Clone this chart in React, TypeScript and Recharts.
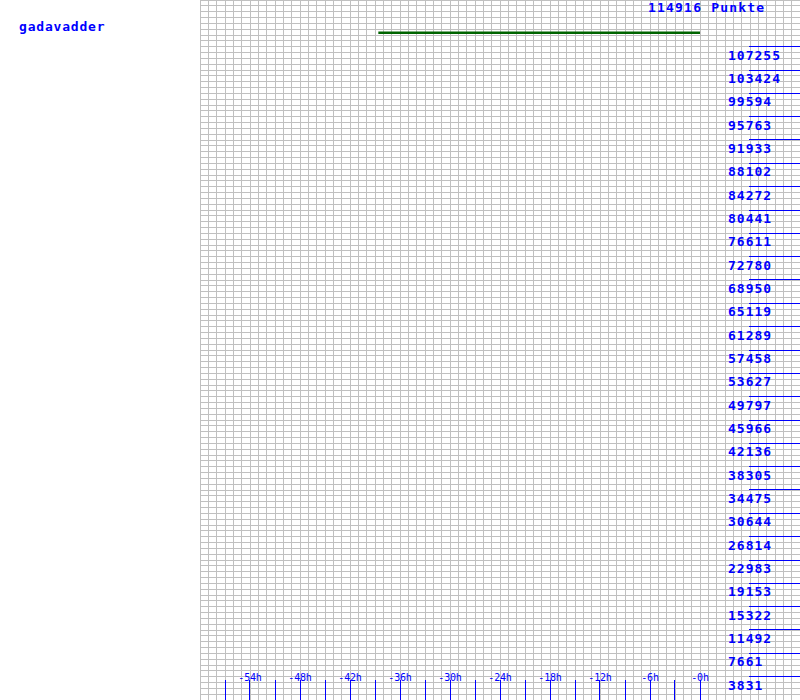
import { LineChart, Line, XAxis, YAxis, CartesianGrid } from 'recharts'

const TOTAL = 114916
const PLAYER = 'gadavadder'
const TITLE = '114916 Punkte'

// hours shown on the time axis (labelled) and the unlabelled ticks in between
const xLabelHours = [-54, -48, -42, -36, -30, -24, -18, -12, -6, 0]
const xMinorHours = [-57, -51, -45, -39, -33, -27, -21, -15, -9, -3]

const yLabels = [
  3831, 7661, 11492, 15322, 19153, 22983, 26814, 30644, 34475, 38305,
  42136, 45966, 49797, 53627, 57458, 61289, 65119, 68950, 72780, 76611,
  80441, 84272, 88102, 91933, 95763, 99594, 103424, 107255,
]

// points history (flat line)
const pointsHours = [-38.6, -30, -20, -10, 0]
const pointsValues = [109550, 109550, 109550, 109550, 109550]

const data = pointsHours.map((h, i) => ({ h, v: pointsValues[i] }))

const xTicks = [...xLabelHours, ...xMinorHours].sort((a, b) => a - b)

const BLUE = '#0000ff'
const MONO = '"DejaVu Sans Mono", monospace'

// grid: one column per hour (72), four rows per y label step (120)
const vGrid = ({ offset }: any) => {
  const out: number[] = []
  for (let i = 0; i <= 72; i++) out.push(offset.left + (offset.width * i) / 72)
  return out
}
const hGrid = ({ offset }: any) => {
  const out: number[] = []
  for (let i = 0; i <= 120; i++) out.push(offset.top + (offset.height * i) / 120)
  return out
}

// snap 1px lines onto the pixel grid
const snap = (n: number) => Math.floor(n) + 0.5

const renderXTick = (props: any) => {
  const { x, payload } = props
  const v = payload.value as number
  const labelled = xLabelHours.includes(v)
  return (
    <g key={`xt-${v}`}>
      <line x1={snap(x)} x2={snap(x)} y1={680} y2={700} stroke={BLUE} strokeWidth={1} />
      {labelled && (
        <text x={x} y={681} textAnchor="middle" fill={BLUE} fontFamily={MONO} fontSize={10} letterSpacing={-0.2}>
          {`${v === 0 ? '-0' : v}h`}
        </text>
      )}
    </g>
  )
}

const renderYTick = (props: any) => {
  const { y, payload } = props
  return (
    <g key={`yt-${payload.value}`}>
      <line x1={749} x2={800} y1={snap(y)} y2={snap(y)} stroke={BLUE} strokeWidth={1} />
      <text
        x={728}
        y={y + 13}
        fill={BLUE}
        fontFamily={MONO}
        fontWeight="bold"
        fontSize={13}
        letterSpacing={1}
      >
        {payload.value}
      </text>
    </g>
  )
}

export default function App() {
  return (
    <div style={{ position: 'absolute', left: 0, top: 0, width: 800, height: 700, background: '#fff' }}>
      <style>{'.recharts-cartesian-grid line{shape-rendering:crispEdges}'}</style>
      <LineChart width={801} height={701} data={data} margin={{ top: 0, right: 0, bottom: 0, left: 200 }}>
        <CartesianGrid
          stroke="#c0c0c0"
          strokeWidth={1}
          verticalCoordinatesGenerator={vGrid}
          horizontalCoordinatesGenerator={hGrid}
        />
        <XAxis
          type="number"
          dataKey="h"
          domain={[-60, 12]}
          ticks={xTicks}
          height={1}
          axisLine={false}
          tickLine={false}
          tick={renderXTick}
          interval={0}
        />
        <YAxis
          orientation="right"
          type="number"
          domain={[0, TOTAL]}
          ticks={yLabels}
          width={1}
          axisLine={false}
          tickLine={false}
          tick={renderYTick}
          interval={0}
        />
        <Line
          type="linear"
          dataKey="v"
          stroke="#006400"
          strokeWidth={2.5}
          dot={false}
          isAnimationActive={false}
        />
      </LineChart>
      <svg width={800} height={700} style={{ position: 'absolute', left: 0, top: 0, pointerEvents: 'none' }}>
        <text x={648} y={11.5} fill={BLUE} fontFamily={MONO} fontWeight="bold" fontSize={13} letterSpacing={1.2}>
          {TITLE}
        </text>
        <text x={19} y={31} fill={BLUE} fontFamily={MONO} fontWeight="bold" fontSize={13} letterSpacing={0.8}>
          {PLAYER}
        </text>
      </svg>
    </div>
  )
}
